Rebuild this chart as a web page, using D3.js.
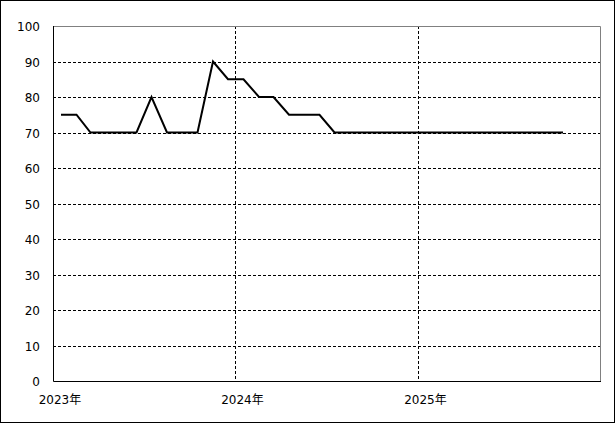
<!DOCTYPE html>
<html>
<head>
<meta charset="utf-8">
<script src="https://cdn.jsdelivr.net/npm/d3@7"></script>
<style>
  html, body { margin: 0; padding: 0; background: #fff; }
  svg { display: block; }
  text { font-family: "DejaVu Sans", "Noto Sans CJK JP", sans-serif; font-size: 12px; fill: #000; }
</style>
</head>
<body>
<div id="chart"></div>
<script>
// monthly values, Jan 2023 .. Oct 2025
var months = ["2023-01","2023-02","2023-03","2023-04","2023-05","2023-06","2023-07","2023-08","2023-09","2023-10","2023-11","2023-12",
              "2024-01","2024-02","2024-03","2024-04","2024-05","2024-06","2024-07","2024-08","2024-09","2024-10","2024-11","2024-12",
              "2025-01","2025-02","2025-03","2025-04","2025-05","2025-06","2025-07","2025-08","2025-09","2025-10"];
var values = [75,75,70,70,70,70,80,70,70,70,90,85,
              85,80,80,75,75,75,70,70,70,70,70,70,
              70,70,70,70,70,70,70,70,70,70];
var yearLabels = ["2023年","2024年","2025年"];
var yearStarts = ["2023-01","2024-01","2025-01"];
var yTicks = [0,10,20,30,40,50,60,70,80,90,100];

var width = 615, height = 424;
// plot box (note: "top" is a reserved window global, so use p* names)
var pLeft = 53, pRight = 601, pTop = 26, pBottom = 381;

var parseMonth = d3.timeParse("%Y-%m");
function midMonth(s){ var d = parseMonth(s); d.setDate(17); return d; }

var svg = d3.select("#chart").append("svg")
    .attr("width", width)
    .attr("height", height);

// outer frame
svg.append("rect")
  .attr("x", 0.5).attr("y", 0.5)
  .attr("width", 614).attr("height", 422)
  .attr("fill", "none").attr("stroke", "#000");

var x = d3.scaleTime()
  .domain([parseMonth("2023-01"), parseMonth("2026-01")])
  .range([pLeft, pRight]);
var y = d3.scaleLinear()
  .domain([0, 100])
  .range([pBottom, pTop]);

// horizontal grid
svg.append("g").selectAll("line")
  .data(yTicks.filter(function(v){ return v > 0 && v < 100; }))
  .enter().append("line")
    .attr("x1", pLeft).attr("x2", pRight)
    .attr("y1", function(d){ return Math.round(y(d)) + 0.5; })
    .attr("y2", function(d){ return Math.round(y(d)) + 0.5; })
    .attr("stroke", "#000")
    .attr("stroke-dasharray", "3,2");

// vertical grid at year starts
svg.append("g").selectAll("line")
  .data(yearStarts.slice(1))
  .enter().append("line")
    .attr("x1", function(d){ return Math.round(x(parseMonth(d))) - 0.5; })
    .attr("x2", function(d){ return Math.round(x(parseMonth(d))) - 0.5; })
    .attr("y1", pTop).attr("y2", pBottom)
    .attr("stroke", "#000")
    .attr("stroke-dasharray", "3,2");

// plot frame: gray top/right, black left/bottom
svg.append("path")
  .attr("d", "M" + (pLeft + 0.5) + "," + (pTop + 0.5) + "H" + (pRight - 0.5) + "V" + (pBottom + 0.5))
  .attr("fill", "none").attr("stroke", "#808080");
svg.append("path")
  .attr("d", "M" + (pLeft + 0.5) + "," + (pTop) + "V" + (pBottom + 0.5) + "H" + (pRight))
  .attr("fill", "none").attr("stroke", "#000");

// y labels
var yAxis = svg.append("g")
  .attr("transform", "translate(" + pLeft + ",0)")
  .call(d3.axisLeft(y).tickValues(yTicks).tickSize(0).tickPadding(13).tickFormat(d3.format("d")));
yAxis.select(".domain").remove();
yAxis.selectAll("text")
  .attr("font-family", null).attr("font-size", null)
  .attr("dy", "0.4em");

// x labels, centred on mid-January
svg.append("g").selectAll("text")
  .data(yearLabels)
  .enter().append("text")
    .attr("x", function(d, i){ return x(midMonth(yearStarts[i])) - 1; })
    .attr("y", 404)
    .attr("text-anchor", "middle")
    .text(function(d){ return d; });

// data line
var line = d3.line()
  .x(function(d, i){ return x(midMonth(months[i])); })
  .y(function(d){ return y(d); });

svg.append("path")
  .datum(values)
  .attr("d", line)
  .attr("fill", "none")
  .attr("stroke", "#000")
  .attr("stroke-width", 2);
</script>
</body>
</html>
